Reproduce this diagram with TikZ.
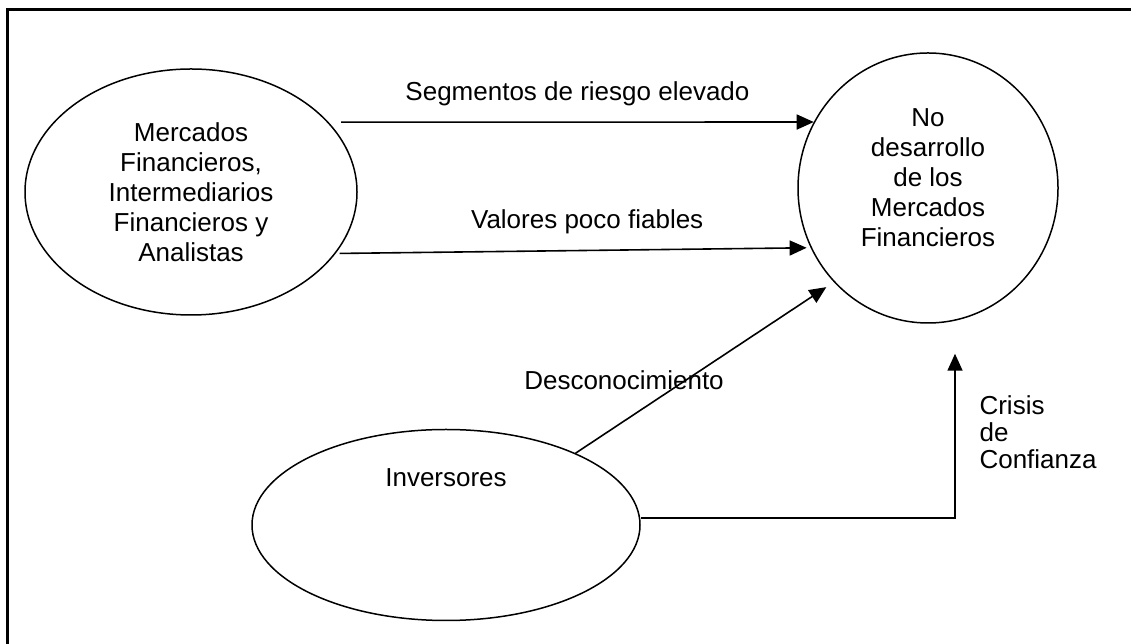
\documentclass[tikz,border=0pt]{standalone}
\usepackage{fontspec}
\setmainfont{Liberation Sans}
\usetikzlibrary{shapes.geometric,arrows.meta}

\begin{document}
\begin{tikzpicture}
      [x=1pt,y=1pt,
      every node/.style={font=\fontsize{26}{30}\selectfont},
      oval/.style={shape=ellipse,draw,line width=1.5pt,inner sep=0pt,align=center},
      flow/.style={-{Triangle[length=17pt,width=15pt]},line width=1.6pt}]
      \useasboundingbox (0,0) rectangle (1131,644);
      % frame
      \draw[line width=2.6pt] (1131,634.5) -- (7.5,634.5) -- (7.5,0);
      \node[oval,minimum width=332,minimum height=246] (mercados) at (191,452)
        {Mercados\\Financieros,\\Intermediarios\\Financieros y\\Analistas};
      \node[oval,minimum width=260,minimum height=270,
        label={[align=center,yshift=10pt]center:No\\desarrollo\\de los\\Mercados\\Financieros}]
        (nodesarrollo) at (928,456) {};
      \node[oval,minimum width=388,minimum height=191,
        label={[yshift=47pt]center:Inversores}] (inversores) at (446,119) {};
      \draw[flow] ([xshift=9pt,yshift=4pt]mercados.25) -- (nodesarrollo.150)
        node[pos=0.5,above=12pt] (riesgo) {Segmentos de riesgo elevado};
      \draw[flow] ([xshift=4pt]mercados.-23) -- ([xshift=-4pt]nodesarrollo.207)
        node[pos=0.53,above=12pt] (valores) {Valores poco fiables};
      \draw[flow,shorten >=9pt] (inversores.29) -- (nodesarrollo.225);
      \node (desc) at (624,264) {Desconocimiento};
      \draw[flow] ([yshift=7pt]inversores.east) -| ([xshift=27pt,yshift=-30pt]nodesarrollo.south);
      \node[align=left,anchor=west,font=\fontsize{26}{27}\selectfont] (crisis) at (976,212)
        {Crisis\\de\\Confianza};
\end{tikzpicture}
\end{document}
